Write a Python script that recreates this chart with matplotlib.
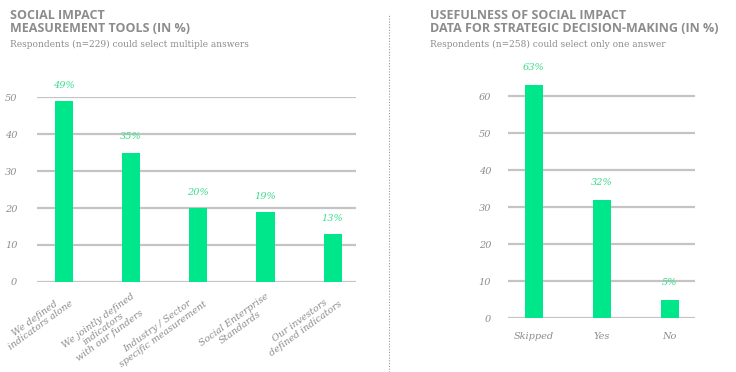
import matplotlib.pyplot as plt

tools = ["We defined\nindicators alone", "We jointly defined\nindicators\nwith our funders",
         "Industry / Sector\nspecific measurement", "Social Enterprise\nStandards",
         "Our investors\ndefined indicators"]
tools_pct = [49, 35, 20, 19, 13]

use_cats = ["Skipped", "Yes", "No"]
use_pct = [63, 32, 5]

green = '#00E68A'
label_green = '#3ADB8C'
grey = '#8C8C8C'
grid_grey = '#C4C4C4'

fig = plt.figure(figsize=(7.36, 3.72), dpi=100)


def style(ax, ticks):
    ax.set_yticks(ticks)
    ax.yaxis.grid(True, color=grid_grey, linewidth=1.6)
    ax.set_axisbelow(True)
    for s in ax.spines.values():
        s.set_visible(False)
    ax.tick_params(axis='both', length=0, colors=grey)
    for t in ax.get_yticklabels():
        t.set_fontfamily('DejaVu Serif')
        t.set_fontstyle('italic')
        t.set_fontsize(7)


# left chart
ax1 = fig.add_axes([0.050, 0.242, 0.434, 0.497])
ax1.bar(range(len(tools)), tools_pct, width=0.27, color=green)
ax1.set_ylim(0, 50)
ax1.set_xlim(-0.4, 4.35)
style(ax1, [0, 10, 20, 30, 40, 50])
ax1.tick_params(axis='y', pad=14)
ax1.set_xticks(range(len(tools)))
ax1.set_xticklabels(tools, rotation=36, ha='right', rotation_mode='anchor',
                    fontfamily='DejaVu Serif', fontstyle='italic', fontsize=6.8,
                    color=grey, multialignment='center', linespacing=1.05)
ax1.tick_params(axis='x', pad=7)
for i, v in enumerate(tools_pct):
    ax1.text(i, v + 3, f"{v}%", ha='center', va='bottom', color=label_green,
             fontsize=7, fontfamily='DejaVu Serif', fontstyle='italic', clip_on=False)

# right chart
ax2 = fig.add_axes([0.690, 0.145, 0.254, 0.656])
ax2.bar(range(len(use_cats)), use_pct, width=0.265, color=green)
ax2.set_ylim(0, 66)
ax2.set_xlim(-0.38, 2.37)
style(ax2, [0, 10, 20, 30, 40, 50, 60])
ax2.tick_params(axis='y', pad=12)
ax2.set_xticks(range(len(use_cats)))
ax2.set_xticklabels(use_cats, fontfamily='DejaVu Serif', fontstyle='italic',
                    fontsize=7, color=grey)
ax2.tick_params(axis='x', pad=10)
for i, v in enumerate(use_pct):
    ax2.text(i, v + 3.5, f"{v}%", ha='center', va='bottom', color=label_green,
             fontsize=7, fontfamily='DejaVu Serif', fontstyle='italic', clip_on=False)

# titles
fig.text(0.014, 0.975, "SOCIAL IMPACT\nMEASUREMENT TOOLS (IN %)", ha='left', va='top',
         fontsize=9, fontweight='bold', color=grey, fontfamily='Open Sans', linespacing=1.0)
fig.text(0.014, 0.893, "Respondents (n=229) could select multiple answers", ha='left', va='top',
         fontsize=6.5, color=grey, fontfamily='DejaVu Serif')
fig.text(0.584, 0.975, "USEFULNESS OF SOCIAL IMPACT\nDATA FOR STRATEGIC DECISION-MAKING (IN %)",
         ha='left', va='top', fontsize=9, fontweight='bold', color=grey,
         fontfamily='Open Sans', linespacing=1.0)
fig.text(0.584, 0.893, "Respondents (n=258) could select only one answer", ha='left', va='top',
         fontsize=6.5, color=grey, fontfamily='DejaVu Serif')

# dotted divider
fig.add_artist(plt.Line2D([0.528, 0.528], [0.0, 0.96], transform=fig.transFigure,
                          color='#999999', linestyle=(0, (1, 1.5)), linewidth=0.8))

fig.savefig('out.png', dpi=100, facecolor='white')
